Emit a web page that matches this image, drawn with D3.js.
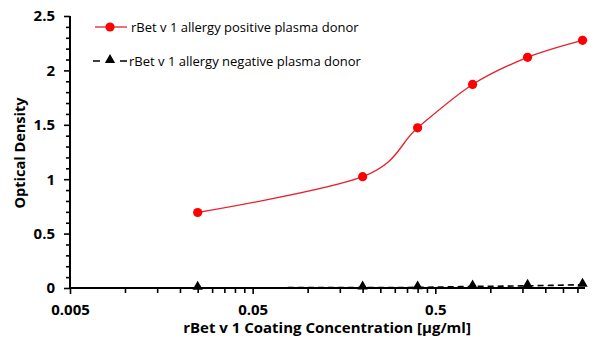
<!DOCTYPE html>
<html>
<head>
<meta charset="utf-8">
<script src="https://cdn.jsdelivr.net/npm/d3@7"></script>
<style>
  html, body { margin: 0; padding: 0; background: #fff; }
  svg { display: block; }
  text { font-family: "Open Sans", "Segoe UI", sans-serif; }
</style>
</head>
<body>
<svg id="chart" width="605" height="340"></svg>
<script>
// Coating concentrations (µg/ml), 2-fold dilution series
const concentrations = [0.025, 0.2, 0.4, 0.8, 1.6, 3.2];
// Optical density readings per donor
const positiveOD = [0.694, 1.023, 1.472, 1.871, 2.120, 2.276];
const negativeOD = [0.002, 0.004, 0.006, 0.014, 0.020, 0.030];
const seriesNames = [
  "rBet v 1 allergy positive plasma donor",
  "rBet v 1 allergy negative plasma donor"
];
const xTickLabels = [0.005, 0.05, 0.5];
const xMinorTicks = [0.01, 0.015, 0.02, 0.025, 0.03, 0.035, 0.04, 0.045,
                     0.1, 0.15, 0.2, 0.25, 0.3, 0.35, 0.4, 0.45,
                     1.0, 1.5, 2.0, 2.5, 3.0];
const yTickLabels = [0, 0.5, 1, 1.5, 2, 2.5];
const yMinorTicks = d3.range(0, 26).map(i => i / 10).filter(v => Math.round(v * 10) % 5 !== 0);

const svg = d3.select("#chart");
const plotLeft = 70, plotRight = 585, plotTop = 16, plotBottom = 288;

const x = d3.scaleLog().domain([0.005, 3.3]).range([plotLeft, plotRight]);
const y = d3.scaleLinear().domain([0, 2.5]).range([plotBottom, plotTop]);

// Y axis
const yAxis = svg.append("g").attr("transform", `translate(${plotLeft},0)`);
yAxis.call(d3.axisLeft(y).tickValues(yMinorTicks).tickSize(4).tickFormat(""));
yAxis.call(g => g.append("g").call(d3.axisLeft(y).tickValues(yTickLabels).tickSize(6).tickPadding(9)
  .tickFormat(d => String(d))));
yAxis.selectAll(".domain").attr("stroke-width", 2).attr("d", `M0,${plotTop}V${plotBottom}`);
yAxis.selectAll(".tick line").attr("stroke-width", 1.6);
yAxis.selectAll(".tick text").attr("font-size", 15).attr("font-weight", 700).attr("fill", "#000");

// X axis
const xAxis = svg.append("g").attr("transform", `translate(0,${plotBottom})`);
xAxis.call(d3.axisBottom(x).tickValues(xMinorTicks).tickSize(5).tickFormat(""));
xAxis.call(g => g.append("g").call(d3.axisBottom(x).tickValues(xTickLabels).tickSize(6).tickPadding(10)
  .tickFormat(d => String(d))));
xAxis.selectAll(".domain").attr("stroke-width", 2).attr("d", `M${plotLeft},0H${plotRight}`);
xAxis.selectAll(".tick line").attr("stroke-width", 1.6);
xAxis.selectAll(".tick text").attr("font-size", 15).attr("font-weight", 700).attr("fill", "#000");

// Axis titles
svg.append("text")
  .attr("x", 327).attr("y", 333)
  .attr("text-anchor", "middle")
  .attr("font-size", 15).attr("font-weight", 700)
  .text("rBet v 1 Coating Concentration [µg/ml]");
svg.append("text")
  .attr("transform", "translate(25,153) rotate(-90)")
  .attr("text-anchor", "middle")
  .attr("font-size", 14.5).attr("font-weight", 700)
  .text("Optical Density");

const smooth = d3.line()
  .x(d => x(d[0])).y(d => y(d[1]))
  .curve(d3.curveCardinal.tension(0));

const posData = concentrations.map((c, i) => [c, positiveOD[i]]);
const negData = concentrations.map((c, i) => [c, negativeOD[i]]);

// Negative donor series: dashed black line with triangles
svg.append("path")
  .datum(negData)
  .attr("fill", "none").attr("stroke", "#000")
  .attr("stroke-width", 1.6).attr("stroke-dasharray", "6,4")
  .attr("d", smooth);
const tri = d3.symbol().type(d3.symbolTriangle).size(46);
svg.append("g").selectAll("path")
  .data(negData).join("path")
  .attr("transform", d => `translate(${x(d[0])},${y(d[1]) - 1})`)
  .attr("d", tri).attr("fill", "#000");

// Positive donor series: smoothed red line with circles
svg.append("path")
  .datum(posData)
  .attr("fill", "none").attr("stroke", "#e8202a")
  .attr("stroke-width", 1.3)
  .attr("d", smooth);
svg.append("g").selectAll("circle")
  .data(posData).join("circle")
  .attr("cx", d => x(d[0])).attr("cy", d => y(d[1]))
  .attr("r", 4.6).attr("fill", "#ff0000");

// Legend
const lg = svg.append("g");
lg.append("line").attr("x1", 95).attr("x2", 127).attr("y1", 27).attr("y2", 27)
  .attr("stroke", "#e8202a").attr("stroke-width", 1.3);
lg.append("circle").attr("cx", 110).attr("cy", 27).attr("r", 4.6).attr("fill", "#ff0000");
lg.append("text").attr("x", 131).attr("y", 31.5).attr("font-size", 13).text(seriesNames[0]);

lg.append("line").attr("x1", 93).attr("x2", 127).attr("y1", 61).attr("y2", 61)
  .attr("stroke", "#000").attr("stroke-width", 1.6).attr("stroke-dasharray", "7,20,7");
lg.append("path").attr("transform", "translate(110,60)").attr("d", tri).attr("fill", "#000");
lg.append("text").attr("x", 129).attr("y", 65.5).attr("font-size", 13).text(seriesNames[1]);
</script>
</body>
</html>
